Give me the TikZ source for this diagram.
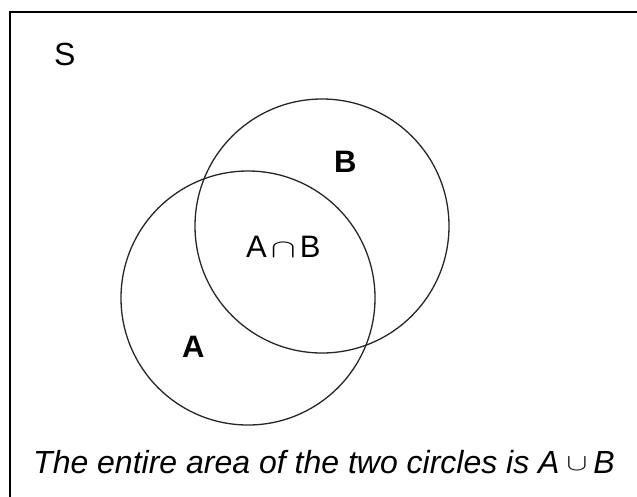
\documentclass[tikz,border=0pt]{standalone}
\usepackage{fontspec}
\usepackage{graphicx}
\setmainfont{Liberation Sans}
\begin{document}
\begin{tikzpicture}[x=1pt,y=-1pt,
  setcircle/.style={circle, draw=black!85, line width=1.3pt, minimum size=254pt, inner sep=0pt},
  lbl/.style={anchor=base west, inner sep=0pt, font=\fontsize{31}{36}\selectfont},
  captiontext/.style={anchor=base west, inner sep=0pt, font=\fontsize{32}{36}\selectfont\itshape}]
\useasboundingbox (0,0) rectangle (637,496);
\clip (0,0) rectangle (637,496);
\fill[white] (0,0) rectangle (637,496);
\draw[line width=2pt] (10,12) rectangle (660,520);
\node[setcircle] (B) at (322,226) {};
\node[setcircle] (A) at (248,298) {};
\node[lbl, font=\fontsize{32}{36}\selectfont] (S) at (54,65) {S};
\node[lbl, font=\fontsize{31}{36}\selectfont\bfseries] (labB) at (334,172) {B};
\node[lbl, font=\fontsize{31}{36}\selectfont\bfseries] (labA) at (182,357) {A};
\node[lbl] (AB) at (246,257) {A\hspace{4pt}\scalebox{1.5}[1.05]{$\cap$}\hspace{4pt}B};
\node[captiontext] (caption) at (33,473) {The entire area of the two circles is A\hspace{7pt}\raisebox{3pt}{\scalebox{1.25}[0.95]{$\cup$}}\hspace{6pt}B};
\end{tikzpicture}
\end{document}
